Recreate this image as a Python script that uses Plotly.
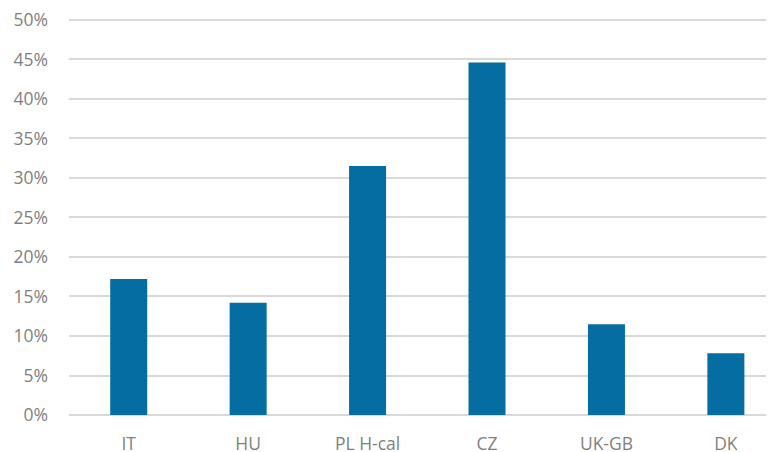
import plotly.graph_objects as go

# categorías y valores (fracción)
markets = ["IT", "HU", "PL H-cal", "CZ", "UK-GB", "DK"]
shares = [0.172, 0.142, 0.315, 0.446, 0.115, 0.078]

fig = go.Figure()
fig.add_trace(
    go.Bar(
        x=markets,
        y=shares,
        marker=dict(color="#066da2", line=dict(width=0)),
    )
)

# la página añade 8px de margen, así que se compensa aquí
fig.update_layout(
    width=774,
    height=452,
    margin=dict(l=61, r=0, t=8, b=44.5),
    plot_bgcolor="white",
    paper_bgcolor="white",
    bargap=0.69,
    showlegend=False,
    font=dict(family="Open Sans", size=17.5, color="#7f7f7f"),
    xaxis=dict(
        range=[-0.5, 5.47],
        showgrid=False,
        showline=False,
        ticks="",
        ticklabelstandoff=16,
    ),
    yaxis=dict(
        range=[0, 0.505],
        tickvals=[i * 0.05 for i in range(11)],
        tickformat=".0%",
        showgrid=True,
        gridcolor="#d9d9d9",
        gridwidth=1.5,
        zeroline=True,
        zerolinecolor="#d9d9d9",
        zerolinewidth=1.5,
        ticks="",
        ticklabelstandoff=20,
        ticklabeloverflow="allow",
    ),
)

fig.write_html("out.html")
